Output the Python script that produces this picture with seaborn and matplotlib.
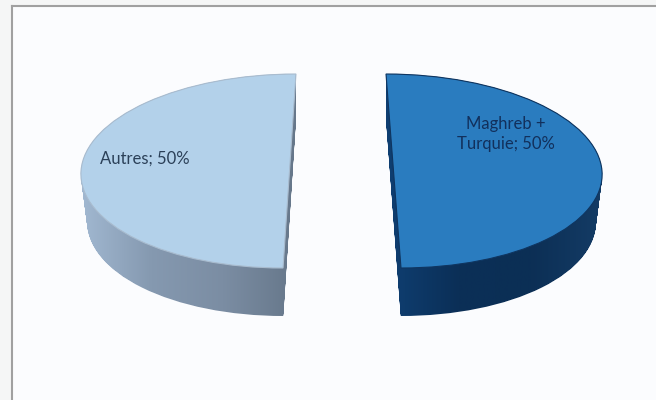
#!/usr/bin/env python
import numpy as np
import matplotlib
matplotlib.use("Agg")
import matplotlib.pyplot as plt
from matplotlib.colors import LinearSegmentedColormap
from matplotlib.path import Path
from matplotlib.transforms import Affine2D
import seaborn as sns

categories = ["Maghreb +\nTurquie", "Autres"]
values = [50, 50]

# picture geometry, in pixels of the 656x400 image
W, H = 656, 400
CX, CY = 341.5, 171
RX, RY = 208.5, 97
DEPTH = 48
GAP = 52
SHRINK = 0.03  # bottom of the wall is a bit narrower than the top

top_colors = ["#2a7cbf", "#b3d1ea"]
edge_colors = ["#0f3560", "#a9bccf"]
side_colors = [["#0f3f72", "#0b2f57", "#0c2f55", "#143c66"],
               ["#a2b9d2", "#8599b0", "#7b8da3", "#66778a"]]
label_colors = ["#12305c", "#2b4058"]
label_pos = [(506, 134), (145, 159)]
shear = [-0.036, 0.031]

sns.set_theme(style="white")
plt.rcParams["font.family"] = ["Lato", "DejaVu Sans"]

def px(x, y):
    return (x - CX) / RX, (CY - y) / RY

fig = plt.figure(figsize=(W / 100, H / 100), dpi=100, facecolor="#f5f6f6")
ax = fig.add_axes([12 / W, 0, (W - 12) / W, (H - 6) / H], facecolor="#fbfcfe")

labels = [f"{c}; {v}%" for c, v in zip(categories, values)]
wedges, texts = ax.pie(values, labels=labels, explode=[GAP / RX, GAP / RX],
                       startangle=90, counterclock=False, radius=1,
                       colors=top_colors)

ax.set_aspect("auto")
xlim = (px(12, 0)[0], px(W, 0)[0])
ylim = (px(0, H)[1], px(0, 6)[1])

for i, w in enumerate(wedges):
    # skew each half so the cut leans like the perspective view
    skew = Affine2D.from_values(1, 0, shear[i], 1, 0, 0)
    base = w.get_path().transformed(skew)
    w.set_transform(skew + ax.transData)
    w.set_edgecolor(edge_colors[i])
    w.set_linewidth(0.8)
    w.set_zorder(3)

    # side wall: stack of shifted copies, used as clip for a gradient
    step = 1.0 / RY
    cx = w.center[0]
    stack = []
    for k in range(DEPTH + 1):
        s = 1 - SHRINK * k / DEPTH
        move = Affine2D().translate(-cx, 0).scale(s, 1).translate(cx, -k * step)
        stack.append(base.transformed(move))
    side = Path.make_compound_path(*stack)
    x0, x1 = side.vertices[:, 0].min(), side.vertices[:, 0].max()
    cmap = LinearSegmentedColormap.from_list(f"side{i}", side_colors[i])
    img = ax.imshow(np.linspace(0, 1, 256).reshape(1, -1), cmap=cmap, aspect="auto",
                    extent=(x0, x1, ylim[0], ylim[1]), zorder=2)
    img.set_clip_path(side, transform=ax.transData)

for t, c, p in zip(texts, label_colors, label_pos):
    t.set_position(px(*p))
    t.set_ha("center")
    t.set_va("center")
    t.set_color(c)
    t.set_fontsize(12)
    t.set_linespacing(1.25)
    t.set_zorder(5)

ax.set_xlim(xlim)
ax.set_ylim(ylim)
ax.set_frame_on(True)
for s in ["right", "bottom"]:
    ax.spines[s].set_visible(False)
for s in ["top", "left"]:
    ax.spines[s].set_color("#a0a0a0")
    ax.spines[s].set_linewidth(1.5)

fig.savefig("out.png", dpi=100, facecolor=fig.get_facecolor())
